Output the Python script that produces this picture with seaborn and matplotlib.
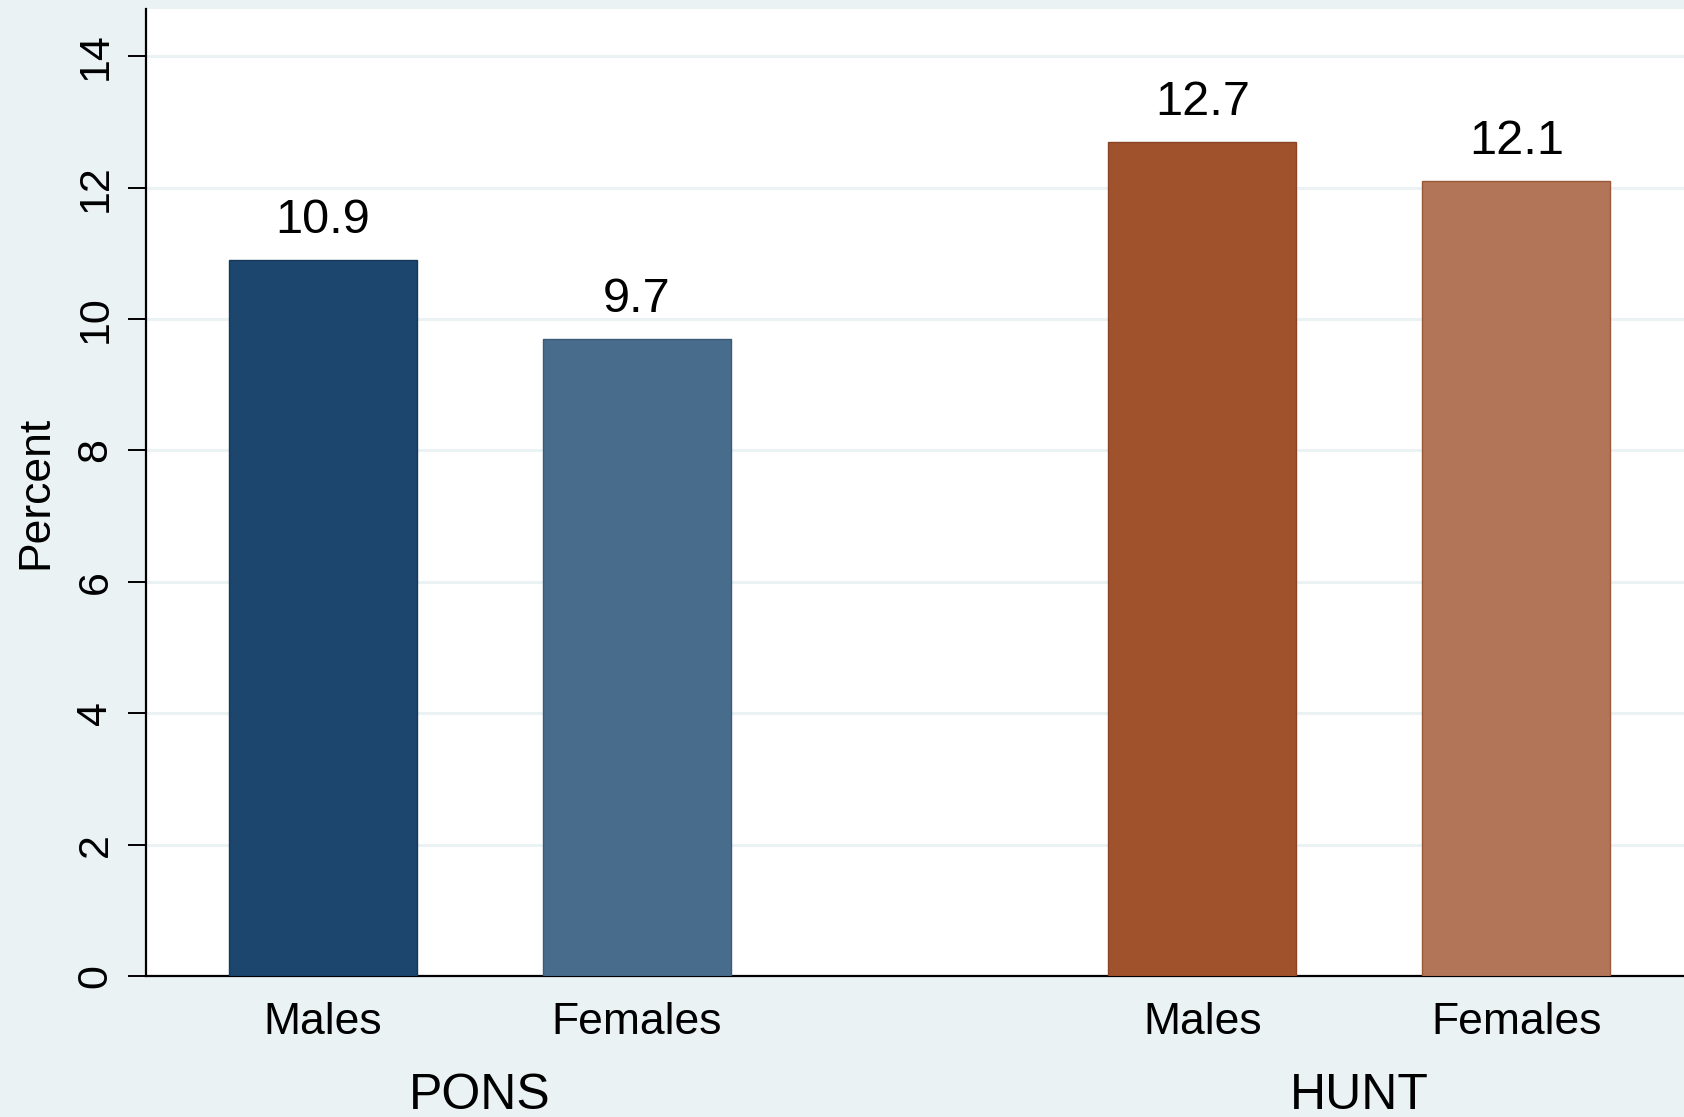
import matplotlib
matplotlib.use("Agg")
import matplotlib.pyplot as plt
import seaborn as sns
import pandas as pd
import numpy as np

studies = ["PONS", "HUNT"]
sexes = ["Males", "Females"]
values = [10.9, 9.7, 12.7, 12.1]
bar_colors = ["#1c466d", "#486c8c", "#a0522d", "#b37557"]
edge_colors = ["#16385a", "#3a5a78", "#8a4425", "#9a5a3a"]
yticks = [0, 2, 4, 6, 8, 10, 12, 14]

group_step = 2.8
rows = []
for gi, st in enumerate(studies):
    for si, sx in enumerate(sexes):
        rows.append({"study": st, "sex": sx, "key": f"{st} {sx}",
                     "pos": gi * group_step + si,
                     "value": values[gi * 2 + si]})
df = pd.DataFrame(rows)

sns.set_theme(style="white")
plt.rcParams["font.family"] = ["Liberation Sans", "DejaVu Sans"]
plt.rcParams["text.color"] = "black"
plt.rcParams["axes.labelcolor"] = "black"
plt.rcParams["xtick.color"] = "black"
plt.rcParams["ytick.color"] = "black"

bg = "#eaf2f3"
fig = plt.figure(figsize=(16.84, 11.17), dpi=100, facecolor=bg)
ax = fig.add_axes([146 / 1684, 1 - 976 / 1117, (1694 - 146) / 1684, (976 - 9) / 1117])
ax.set_facecolor("white")

palette = dict(zip(df["key"], bar_colors))
sns.barplot(data=df, x="pos", y="value", hue="key", palette=palette,
            native_scale=True, width=0.6, dodge=False, saturation=1,
            legend=False, ax=ax, zorder=3)

for patch, ec in zip(ax.patches, edge_colors):
    patch.set_edgecolor(ec)
    patch.set_linewidth(1.0)

for cont in ax.containers:
    ax.bar_label(cont, labels=[f"{v:.1f}" for v in cont.datavalues],
                 padding=12, fontsize=35, color="black")

ax.set_xlim(-0.564, 4.366)
ax.set_ylim(0, 14.72)
ax.set_yticks(yticks)
ax.set_yticklabels([str(t) for t in yticks], rotation=90, va="center", fontsize=31, color="black")
ax.yaxis.grid(True, color=bg, linewidth=2.2, zorder=0)
ax.set_axisbelow(True)

ax.set_xticks(df["pos"])
ax.set_xticklabels(df["sex"], fontsize=32, color="black")
ax.tick_params(axis="x", length=0, pad=19, labelcolor="black")
ax.tick_params(axis="y", length=13, width=1.4, color="black", pad=9, direction="out",
               left=True, labelcolor="black")

for gi, st in enumerate(studies):
    center = df.loc[df["study"] == st, "pos"].mean()
    ax.text(center, -0.124, st, transform=ax.get_xaxis_transform(),
            ha="center", va="center", fontsize=36, color="black", clip_on=False)

ax.set_xlabel("")
ax.set_ylabel("Percent", fontsize=32, labelpad=14, color="black")

for s in ["top", "right"]:
    ax.spines[s].set_visible(False)
for s in ["left", "bottom"]:
    ax.spines[s].set_visible(True)
    ax.spines[s].set_color("black")
    ax.spines[s].set_linewidth(1.6)

fig.savefig("out.png", dpi=100, facecolor=bg)
